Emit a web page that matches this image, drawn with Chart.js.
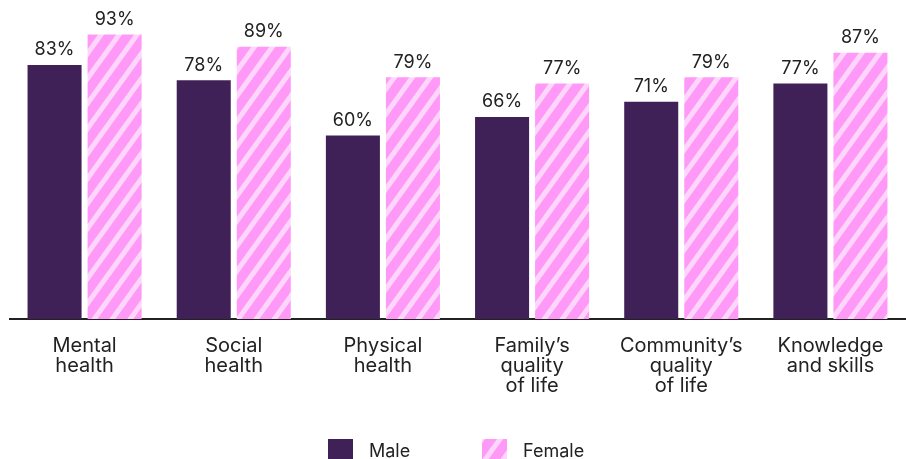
<!DOCTYPE html>
<html>
<head>
<meta charset="utf-8">
<script src="https://cdn.jsdelivr.net/npm/chart.js@4"></script>
<style>
  html, body { margin: 0; padding: 0; background: #fff; }
  #wrap { position: relative; width: 906px; height: 459px; }
  #legend { position: absolute; left: 0; top: 439px; width: 906px; height: 20px;
            font-family: Inter, sans-serif; font-size: 18px; color: #222; }
  .item { position: absolute; top: 0; height: 20px; line-height: 24px; }
  .box { position: absolute; left: 0; top: 0; width: 25px; height: 20px; }
  .item span { position: absolute; left: 41px; top: 0; white-space: nowrap; }
</style>
</head>
<body>
<div id="wrap">
  <canvas id="chart1" width="906" height="459"></canvas>
  <div id="legend"></div>
</div>
<script>
let categories = [
  ["Mental", "health"],
  ["Social", "health"],
  ["Physical", "health"],
  ["Family’s", "quality", "of life"],
  ["Community’s", "quality", "of life"],
  ["Knowledge", "and skills"]
];
let maleValues = [83, 78, 60, 66, 71, 77];
let femaleValues = [93, 89, 79, 77, 79, 87];
let seriesNames = ["Male", "Female"];

const maleColor = "#3f2157";
const pinkColor = "#ff99f7";
const stripeColor = "#ffd6fb";

// diagonal stripe tile for the female bars
function stripes() {
  const w = 18, h = 25;
  const c = document.createElement("canvas");
  c.width = w; c.height = h;
  const g = c.getContext("2d");
  g.fillStyle = pinkColor;
  g.fillRect(0, 0, w, h);
  g.strokeStyle = stripeColor;
  g.lineWidth = 5;
  // lines run past the tile edges so the repeat has no seams
  for (let k = -2; k <= 2; k++) {
    g.beginPath();
    g.moveTo(k * w - w, 2 * h);
    g.lineTo(k * w + 2 * w, -h);
    g.stroke();
  }
  return c;
}
const tile = stripes();
const femalePattern = document.getElementById("chart1").getContext("2d").createPattern(tile, "repeat");

// percentage above each bar
const valueLabels = {
  id: "valueLabels",
  afterDatasetsDraw(chart) {
    const ctx = chart.ctx;
    ctx.save();
    ctx.font = "18px Inter, sans-serif";
    ctx.fillStyle = "#222";
    ctx.textAlign = "center";
    ctx.textBaseline = "middle";
    chart.data.datasets.forEach((ds, i) => {
      chart.getDatasetMeta(i).data.forEach((bar, j) => {
        ctx.fillText(ds.data[j] + "%", bar.x, bar.y - 15);
      });
    });
    ctx.restore();
  }
};

new Chart("chart1", {
  type: "bar",
  data: {
    labels: categories,
    datasets: [{
      label: seriesNames[0],
      data: maleValues,
      backgroundColor: maleColor,
      barPercentage: 0.9,
      categoryPercentage: 0.805
    }, {
      label: seriesNames[1],
      data: femaleValues,
      backgroundColor: femalePattern,
      barPercentage: 0.9,
      categoryPercentage: 0.805
    }]
  },
  options: {
    responsive: false,
    animation: false,
    layout: { padding: { top: 13, left: 10, right: 1, bottom: 0 } },
    plugins: { legend: { display: false }, tooltip: { enabled: false } },
    scales: {
      y: { display: false, min: 0, max: 100 },
      x: {
        grid: { display: false },
        border: { display: true, color: "#222", width: 2 },
        ticks: {
          color: "#222",
          padding: 9,
          maxRotation: 0,
          autoSkip: false,
          font: { family: "Inter, sans-serif", size: 20, lineHeight: 1.0 }
        },
        afterFit(scale) { scale.height = 140; }
      }
    }
  },
  plugins: [valueLabels]
});

// legend below the plot
const legend = document.getElementById("legend");
const lefts = [328, 482];
seriesNames.forEach((name, i) => {
  const item = document.createElement("div");
  item.className = "item";
  item.style.left = lefts[i] + "px";
  const box = document.createElement("div");
  box.className = "box";
  box.style.background = i === 0 ? maleColor : "url(" + tile.toDataURL() + ")";
  const txt = document.createElement("span");
  txt.textContent = name;
  item.appendChild(box);
  item.appendChild(txt);
  legend.appendChild(item);
});
</script>
</body>
</html>
